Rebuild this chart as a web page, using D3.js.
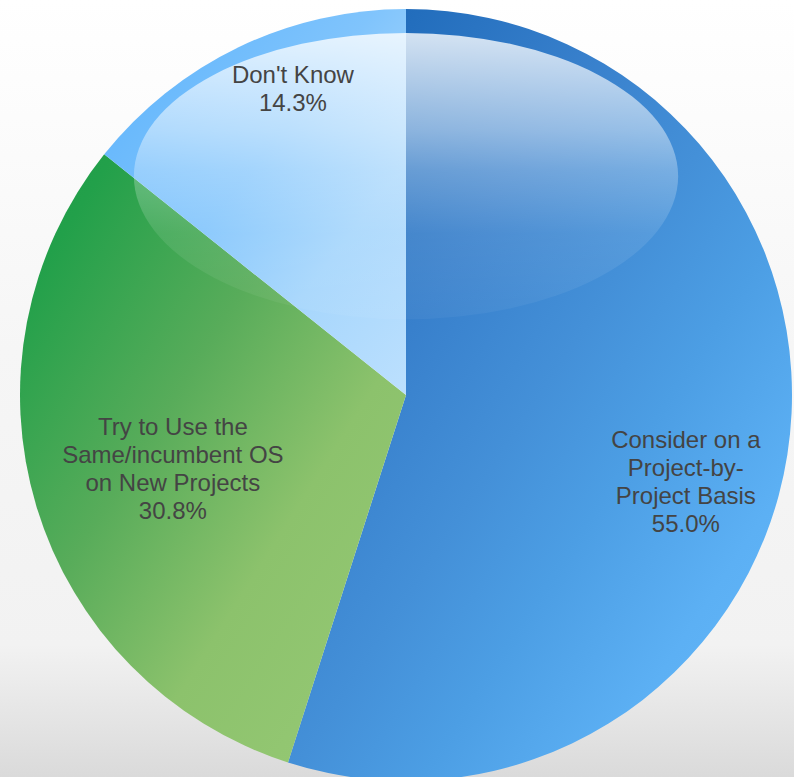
<!DOCTYPE html>
<html>
<head>
<meta charset="utf-8">
<script src="https://cdn.jsdelivr.net/npm/d3@7"></script>
<style>
  html, body { margin: 0; padding: 0; background: #fff; }
  svg { display: block; }
</style>
</head>
<body>
<svg id="chart" width="794" height="777"></svg>
<script>
// ---- data ----
const categories = ["Consider on a Project-by-Project Basis", "Try to Use the Same/incumbent OS on New Projects", "Don't Know"];
const values = [55.0, 30.8, 14.3];
const labelLines = [
  ["Consider on a", "Project-by-", "Project Basis", "55.0%"],
  ["Try to Use the", "Same/incumbent OS", "on New Projects", "30.8%"],
  ["Don't Know", "14.3%"]
];
// label anchor offsets as fractions of the radius (dx, dy)
const labelOffsets = [[0.725, 0.225], [-0.604, 0.19], [-0.293, -0.795]];
const sliceStops = [
  [[0, "#1562b3"], [0.33, "#3880cc"], [0.5, "#4490d8"], [0.63, "#4c9ee4"], [0.8, "#5cb0f4"], [1, "#66bafc"]],
  [[0, "#1e9c48"], [0.12, "#22a04a"], [0.4, "#58ac5a"], [0.65, "#8cc26c"], [1, "#98ca76"]],
  [[0, "#5ab2fc"], [0.45, "#80c4fc"], [0.7, "#a6d6fc"], [1, "#bce0fe"]]
];

// ---- layout ----
const W = 794, H = 777;
const cx = 406, cy = 395, R = 386;
const svg = d3.select("#chart");
const defs = svg.append("defs");

// background
const bg = defs.append("linearGradient").attr("id", "bg")
  .attr("x1", 0).attr("y1", 0).attr("x2", 0).attr("y2", 1);
[[0, "#ffffff"], [0.45, "#f6f6f6"], [0.83, "#f2f2f2"], [1, "#dadada"]].forEach(s =>
  bg.append("stop").attr("offset", s[0]).attr("stop-color", s[1]));
svg.append("rect").attr("width", W).attr("height", H).attr("fill", "url(#bg)");

// slice gradients
sliceStops.forEach((stops, i) => {
  const g = defs.append("linearGradient").attr("id", "sg" + i)
    .attr("x1", 0).attr("y1", 0).attr("x2", 1).attr("y2", 1);
  stops.forEach(s => g.append("stop").attr("offset", s[0]).attr("stop-color", s[1]));
});

// gloss gradient
const gl = defs.append("linearGradient").attr("id", "gloss")
  .attr("x1", 0).attr("y1", 0).attr("x2", 0).attr("y2", 1);
[[0, 0.8], [0.34, 0.46], [0.48, 0.28], [0.7, 0.1], [1, 0.04]].forEach(s =>
  gl.append("stop").attr("offset", s[0]).attr("stop-color", "#ffffff").attr("stop-opacity", s[1]));

const pie = d3.pie().sort(null).value(d => d)(values);
const arc = d3.arc().innerRadius(0).outerRadius(R);

const g = svg.append("g").attr("transform", `translate(${cx},${cy})`);
g.selectAll("path.slice").data(pie).join("path")
  .attr("class", "slice")
  .attr("d", arc)
  .attr("fill", (d, i) => `url(#sg${i})`);

// gloss ellipse
g.append("ellipse")
  .attr("cx", 0).attr("cy", -0.567 * R)
  .attr("rx", 0.705 * R).attr("ry", 0.371 * R)
  .attr("fill", "url(#gloss)");

// labels
const fs = 24, lh = 28, cap = 17;
pie.forEach((d, i) => {
  const lines = labelLines[i];
  const ax = labelOffsets[i][0] * R, ay = labelOffsets[i][1] * R;
  const y0 = ay - (lines.length - 1) * lh / 2 + cap / 2;
  const t = g.append("text")
    .attr("text-anchor", "middle")
    .attr("font-family", "'Liberation Sans', Arial, sans-serif")
    .attr("font-size", fs)
    .attr("fill", "#444444");
  lines.forEach((ln, k) => {
    t.append("tspan").attr("x", ax).attr("y", y0 + k * lh).text(ln);
  });
});
</script>
</body>
</html>
